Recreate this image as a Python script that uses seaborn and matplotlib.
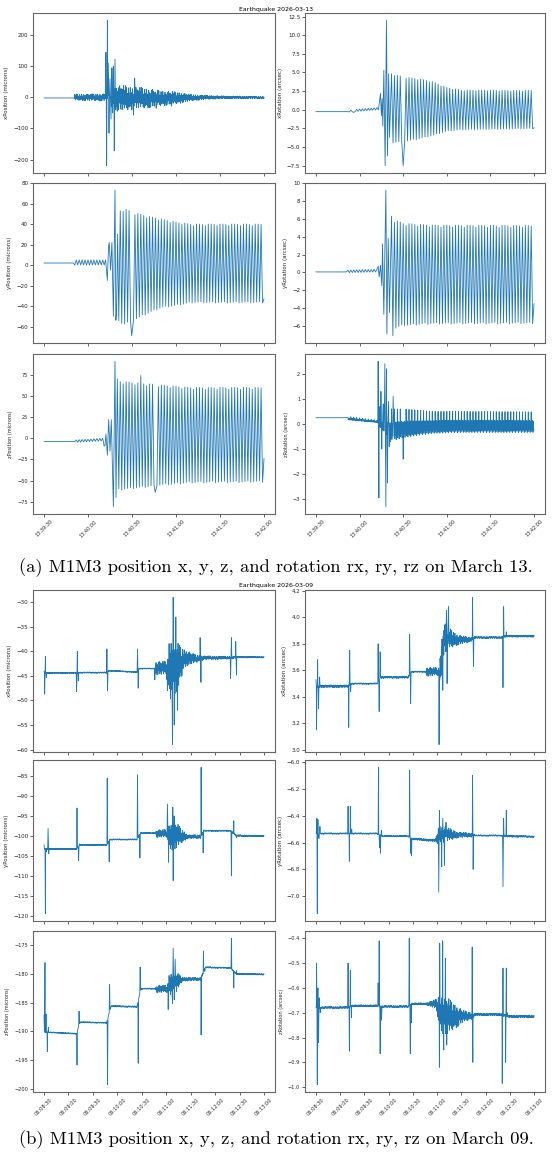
import numpy as np
import pandas as pd
import seaborn as sns
import matplotlib.pyplot as plt
import matplotlib.dates as mdates
from matplotlib.ticker import MultipleLocator

# ---------------- data ----------------
# each signal: envelope knots (seconds from start, upper, lower), carrier period,
# and the individual spike vertices (seconds, value)

# March 13, 13:39:30 -> 13:42:00
top_start = "2026-03-13 13:39:30"
top_len = 150

xpos_kt = [0, 20.9, 21, 41.5, 50, 60, 70, 80, 90, 100, 110, 120, 150]
xpos_hi = [-2, -2, 10, 12, 40, 35, 30, 22, 18, 10, 7, 5, 3]
xpos_lo = [-2, -2, -10, -12, -45, -40, -35, -28, -22, -12, -7, -5, -4]
xpos_st = [42.2, 42.7, 43.2, 43.8, 44.3, 45.0, 45.7, 46.3, 46.8, 47.3, 47.9, 48.4, 49.0, 61.0, 61.8, 76.5, 87.0]
xpos_sv = [145, -220, 248, 110, -115, 60, -70, 95, -50, 100, -172, 123, -40, -57, 62, -35, -28]

xrot_kt = [0, 22, 22.1, 30, 43, 44, 50, 60, 70, 80, 90, 100, 150]
xrot_hi = [-0.25, -0.25, -0.1, 0.1, 0.3, 2.2, 5.0, 4.4, 4.2, 3.8, 3.0, 2.65, 2.6]
xrot_lo = [-0.25, -0.25, -0.3, -0.2, 0.0, -0.8, -4.5, -4.3, -4.0, -3.5, -2.9, -2.7, -2.55]
xrot_st = [26.0, 44.4, 45.0, 45.5, 46.0, 46.7, 47.6, 48.5, 49.2, 50.0, 50.6, 60.0, 150]
xrot_sv = [-0.35, 2.2, -0.8, 1.5, -2.2, 5.3, -7.5, 12.0, -6.2, 4.8, -3.7, -7.5, -2.4]

ypos_kt = [0, 20, 20.1, 42, 49, 55, 60, 70, 80, 90, 100, 150]
ypos_hi = [2, 2, 5, 5, 52, 55, 52, 48, 45, 42, 40, 40]
ypos_lo = [2, 2, 0, 0, -55, -58, -55, -48, -42, -40, -37, -37]
ypos_st = [43.2, 44.5, 45.4, 46.3, 47.3, 48.4, 49.5, 50.2, 59.8, 150]
ypos_sv = [-15, 22, -5, 22, -50, 73, -45, 30, -69, -33]

yrot_kt = [0, 21, 21.1, 43, 52, 60, 70, 80, 150]
yrot_hi = [0.05, 0.05, 0.25, 0.35, 6.0, 5.5, 5.4, 5.3, 5.25]
yrot_lo = [0.05, 0.05, -0.05, 0.05, -6.5, -6.0, -5.9, -5.8, -5.75]
yrot_st = [42.8, 43.5, 44.4, 45.3, 45.8, 46.7, 48.1, 48.8, 49.7, 50.6, 52.0, 52.9, 150]
yrot_sv = [0.7, -0.5, 0.8, -1.5, 3.2, -4.7, 9.2, -6.9, 3.8, -4.5, 6.3, -7.1, -3.5]

zpos_kt = [0, 21, 21.1, 40, 49, 60, 80, 100, 150]
zpos_hi = [-4, -4, -2, 0, 68, 66, 63, 60, 60]
zpos_lo = [-4, -4, -5, -3, -62, -60, -56, -53, -52]
zpos_st = [41.6, 42.2, 43.2, 44.1, 45.0, 45.9, 47.3, 48.4, 49.1, 50.0, 66.0, 75.8, 150]
zpos_sv = [-8, 5, -20, 22, -15, 22, -81, 91, -70, 70, 74, -64, -24]

zrot_kt = [0, 22, 22.1, 42, 50, 60, 80, 100, 150]
zrot_hi = [0.25, 0.25, 0.3, 0.15, 0.6, 0.6, 0.5, 0.5, 0.48]
zrot_lo = [0.25, 0.25, 0.15, 0.05, -0.8, -0.6, -0.42, -0.38, -0.38]
zrot_st = [42.8, 43.3, 44.0, 44.7, 45.3, 46.3, 47.4, 48.1, 48.5, 49.2, 49.9, 50.4, 53.1, 60.0, 150]
zrot_sv = [2.5, -2.95, 0.7, 1.3, -1.0, 0.8, 2.4, -3.3, 2.2, -2.35, 0.9, -0.9, 1.1, -1.4, -0.25]

# March 09, 06:08:30 -> 06:13:00
bot_start = "2026-03-09 06:08:30"
bot_len = 270

bx_kt = [0, 40, 43, 77, 80, 114, 117, 136, 137, 150, 153, 158, 165, 172, 185, 192, 196, 228, 238, 270]
bx_hi = [-44.25, -44.25, -44.2, -44.2, -43.8, -44.1, -43.4, -43.4, -42.0, -42.0, -38, -36.5, -38.5, -39.5, -40.6, -40.8, -40.9, -41.0, -41.0, -41.05]
bx_lo = [-44.5, -44.5, -44.45, -44.45, -44.05, -44.35, -43.6, -43.6, -44.8, -44.8, -49, -50.5, -48, -43.2, -42.4, -42.0, -41.7, -41.6, -41.35, -41.35]
bx_st = [0, 0.8, 1.7, 2.9, 40.0, 40.9, 42.1, 77.2, 78.0, 114.8, 115.6, 136.0, 151.5, 157.7, 158.5, 159.8, 161.8, 163.9, 191.6, 192.6, 229.0, 230.0, 235.3, 236.2]
bx_sv = [-44.0, -48.7, -41.0, -45.3, -48.2, -40.0, -46.0, -39.5, -48.0, -39.5, -47.5, -45.8, -48.0, -59.0, -29.0, -55.0, -33.0, -52.0, -37.2, -46.3, -45.5, -37.2, -38.0, -44.8]

bxr_kt = [0, 39, 43, 76, 80, 114, 118, 136, 137, 151, 153, 158, 165, 175, 190, 197, 229, 236, 270]
bxr_hi = [3.49, 3.49, 3.505, 3.505, 3.555, 3.555, 3.595, 3.595, 3.625, 3.62, 3.7, 3.97, 3.92, 3.87, 3.85, 3.855, 3.855, 3.865, 3.865]
bxr_lo = [3.47, 3.47, 3.495, 3.495, 3.54, 3.54, 3.585, 3.585, 3.555, 3.56, 3.45, 3.7, 3.76, 3.79, 3.81, 3.84, 3.84, 3.85, 3.85]
bxr_st = [0, 0.8, 2.1, 3.3, 4.6, 40.6, 41.8, 43.0, 77.0, 78.3, 79.5, 116.0, 117.2, 151.6, 152.4, 153.6, 157.0, 161.5, 162.3, 164.0, 193.8, 195.0, 231.5, 232.3, 235.6]
bxr_sv = [3.53, 3.15, 3.68, 3.31, 3.55, 3.17, 3.75, 3.44, 3.80, 3.29, 3.74, 3.87, 3.35, 3.60, 3.04, 3.69, 3.45, 4.05, 3.50, 4.08, 4.15, 3.63, 3.47, 4.08, 3.89]

by_kt = [0, 40, 44, 77, 81, 114, 118, 137, 138, 151, 154, 160, 168, 176, 192, 196, 229, 236, 270]
by_hi = [-103.1, -103.1, -102.1, -102.1, -100.75, -100.75, -99.15, -99.15, -98.4, -98.4, -97, -96, -98, -99.7, -99.7, -98.55, -98.55, -99.7, -99.85]
by_lo = [-103.45, -103.45, -102.4, -102.4, -101.05, -101.05, -99.45, -99.45, -100.4, -100.4, -103, -104, -102, -100.7, -100.7, -98.85, -98.85, -100.15, -100.2]
by_st = [0, 1.7, 2.9, 5.0, 5.8, 40.5, 42.5, 43.4, 77.6, 80.0, 114.8, 117.7, 151.5, 152.8, 158.1, 158.5, 159.8, 192.8, 195.3, 230.0, 232.9, 236.2]
by_sv = [-102.2, -119.5, -104.0, -98.1, -104.5, -93.0, -106.2, -102.0, -85.5, -106.5, -84.7, -105.5, -92.0, -106.6, -92.8, -111.2, -95.0, -82.8, -104.2, -110.0, -96.2, -100.5]

byr_kt = [0, 39, 44, 76, 81, 114, 119, 148, 152, 160, 175, 194, 197, 229, 236, 270]
byr_hi = [-6.528, -6.528, -6.528, -6.528, -6.548, -6.548, -6.565, -6.575, -6.47, -6.48, -6.52, -6.53, -6.543, -6.543, -6.545, -6.55]
byr_lo = [-6.538, -6.538, -6.538, -6.538, -6.558, -6.558, -6.58, -6.595, -6.62, -6.6, -6.565, -6.56, -6.553, -6.553, -6.56, -6.562]
byr_st = [0, 1.2, 1.7, 2.5, 3.7, 5.0, 39.8, 41.4, 42.6, 44.3, 77.4, 78.7, 79.9, 81.0, 116.0, 117.2, 118.4, 152.0, 152.8, 155.7, 157.0, 159.0, 161.0, 193.8, 194.6, 231.5, 232.3, 235.6, 236.9]
byr_sv = [-6.53, -6.42, -7.13, -6.43, -6.57, -6.48, -6.33, -6.74, -6.33, -6.50, -6.04, -6.64, -6.68, -6.51, -6.06, -6.68, -6.70, -6.97, -6.36, -6.78, -6.42, -6.77, -6.45, -6.10, -6.80, -6.93, -6.42, -6.36, -6.56]

bz_kt = [0, 40, 44, 77, 82, 114, 119, 137, 138, 151, 154, 160, 170, 192, 198, 229, 236, 270]
bz_hi = [-190.0, -190.3, -188.3, -188.4, -185.5, -185.6, -182.5, -182.5, -182.0, -182.0, -179.8, -179.5, -180.6, -180.7, -178.8, -178.9, -179.95, -180.0]
bz_lo = [-190.2, -190.5, -188.5, -188.6, -185.75, -185.85, -182.7, -182.7, -183.3, -183.3, -183.5, -184.0, -181.3, -181.2, -179.05, -179.1, -180.2, -180.25]
bz_st = [0, 1.2, 2.5, 4.1, 5.4, 40.5, 43.0, 44.2, 78.0, 80.5, 81.7, 115.6, 118.0, 119.3, 152.4, 157.7, 158.5, 159.8, 161.0, 192.8, 195.7, 197.4, 230.0, 232.9, 236.2]
bz_sv = [-187.2, -178.1, -187.0, -193.5, -189.3, -195.8, -186.5, -188.6, -199.2, -181.9, -185.9, -195.5, -178.9, -182.8, -186.2, -185.2, -175.6, -184.5, -177.5, -190.6, -176.1, -179.6, -173.9, -182.5, -179.5]

bzr_kt = [0, 39, 44, 76, 82, 114, 119, 136, 149, 153, 160, 170, 182, 194, 198, 229, 237, 270]
bzr_hi = [-0.675, -0.675, -0.668, -0.668, -0.671, -0.671, -0.66, -0.66, -0.645, -0.62, -0.63, -0.66, -0.69, -0.7, -0.702, -0.702, -0.71, -0.71]
bzr_lo = [-0.683, -0.683, -0.676, -0.676, -0.679, -0.679, -0.668, -0.668, -0.685, -0.76, -0.8, -0.77, -0.74, -0.725, -0.712, -0.712, -0.72, -0.72]
bzr_st = [0, 0.8, 1.7, 2.5, 3.3, 4.1, 5.4, 39.8, 41.4, 42.6, 43.9, 77.0, 78.3, 79.5, 81.2, 115.5, 116.8, 118.0, 152.8, 153.2, 156.9, 158.2, 160.2, 161.9, 193.4, 194.2, 230.6, 231.5, 234.8, 235.6, 236.9]
bzr_sv = [-0.68, -0.50, -0.99, -0.60, -0.82, -0.64, -0.70, -0.50, -0.855, -0.53, -0.72, -0.58, -0.41, -0.865, -0.73, -0.40, -0.865, -0.74, -0.92, -0.42, -0.41, -0.85, -0.48, -0.83, -0.435, -0.90, -0.985, -0.52, -0.90, -0.52, -0.70]

# amplitude patterns of successive half-swings
steady = [1.0, 0.98, 1.0, 0.97, 0.99, 1.0, 0.96, 0.99]
noisy = [1.0, 0.35, 0.7, 0.15, 0.9, 0.5, 0.25, 0.8, 0.4, 0.6, 0.2, 0.95, 0.3, 0.55,
         0.85, 0.1, 0.45, 0.75, 0.3, 0.65, 0.2, 0.5, 0.9, 0.35, 0.15, 0.7, 0.4, 0.6,
         0.25, 1.0, 0.5, 0.3, 0.8, 0.45, 0.2, 0.65, 0.55]
mixed = [1.0, 0.8, 0.15, 0.6, 0.2, 0.9, 0.1, 0.7]


def build(start, t_end, kt, hi, lo, period, pattern, st, sv, gap):
    tk = np.arange(0, t_end + 1e-9, period / 2)
    h = np.interp(tk, kt, hi)
    l = np.interp(tk, kt, lo)
    mid = (h + l) / 2
    edge = np.where(np.arange(len(tk)) % 2 == 0, h, l)
    v = mid + (edge - mid) * np.resize(pattern, len(tk))
    st = np.asarray(st, float)
    near = np.min(np.abs(tk[:, None] - st[None, :]), axis=1) < gap
    t = np.concatenate([tk[~near], st])
    v = np.concatenate([v[~near], sv])
    o = np.argsort(t, kind="stable")
    ts = pd.Timestamp(start) + pd.to_timedelta(t[o], unit="s")
    return pd.DataFrame({"time": ts, "value": v[o]})


top = [
    (build(top_start, top_len, xpos_kt, xpos_hi, xpos_lo, 0.3, noisy, xpos_st, xpos_sv, 0.15), "xPosition (microns)", 100),
    (build(top_start, top_len, xrot_kt, xrot_hi, xrot_lo, 2.0, steady, xrot_st, xrot_sv, 0.45), "xRotation (arcsec)", 2.5),
    (build(top_start, top_len, ypos_kt, ypos_hi, ypos_lo, 2.0, steady, ypos_st, ypos_sv, 0.45), "yPosition (microns)", 20),
    (build(top_start, top_len, yrot_kt, yrot_hi, yrot_lo, 2.0, steady, yrot_st, yrot_sv, 0.45), "yRotation (arcsec)", 2),
    (build(top_start, top_len, zpos_kt, zpos_hi, zpos_lo, 2.0, steady, zpos_st, zpos_sv, 0.45), "zPosition (microns)", 25),
    (build(top_start, top_len, zrot_kt, zrot_hi, zrot_lo, 0.5, mixed, zrot_st, zrot_sv, 0.2), "zRotation (arcsec)", 1),
]
bot = [
    (build(bot_start, bot_len, bx_kt, bx_hi, bx_lo, 0.5, noisy, bx_st, bx_sv, 0.3), "xPosition (microns)", 5),
    (build(bot_start, bot_len, bxr_kt, bxr_hi, bxr_lo, 0.5, noisy, bxr_st, bxr_sv, 0.3), "xRotation (arcsec)", 0.2),
    (build(bot_start, bot_len, by_kt, by_hi, by_lo, 0.5, noisy, by_st, by_sv, 0.3), "yPosition (microns)", 5),
    (build(bot_start, bot_len, byr_kt, byr_hi, byr_lo, 0.5, noisy, byr_st, byr_sv, 0.3), "yRotation (arcsec)", 0.2),
    (build(bot_start, bot_len, bz_kt, bz_hi, bz_lo, 0.5, noisy, bz_st, bz_sv, 0.3), "zPosition (microns)", 5),
    (build(bot_start, bot_len, bzr_kt, bzr_hi, bzr_lo, 0.5, noisy, bzr_st, bzr_sv, 0.3), "zRotation (arcsec)", 0.1),
]

# ---------------- figure ----------------
sns.set_style("ticks")
plt.rcParams["font.family"] = ["DejaVu Sans"]
W, H = 552, 1156
fig = plt.figure(figsize=(W / 100, H / 100), dpi=100)

cols = [(33, 275), (305, 545)]
top_rows = [(13, 173), (183, 343), (354, 514)]
bot_rows = [(590, 752), (760, 921), (931, 1092)]


def px_axes(x0, x1, y0, y1):
    return fig.add_axes([x0 / W, 1 - y1 / H, (x1 - x0) / W, (y1 - y0) / H])


def draw(panel, rows):
    for i, (df, label, step) in enumerate(panel):
        r, c = divmod(i, 2)
        ax = px_axes(cols[c][0], cols[c][1], rows[r][0], rows[r][1])
        sns.lineplot(data=df, x="time", y="value", ax=ax, color="#1f77b4",
                     linewidth=0.6, estimator=None, sort=False)
        fs = 3.6 if r == 2 else 4.0
        ax.set_ylabel(label, fontsize=fs, labelpad=3)
        ax.set_xlabel("")
        ax.yaxis.set_major_locator(MultipleLocator(step))
        ax.xaxis.set_major_locator(mdates.SecondLocator(bysecond=[0, 30]))
        ax.xaxis.set_major_formatter(mdates.DateFormatter("%H:%M:%S"))
        ax.tick_params(axis="both", labelsize=fs, length=2, width=0.5, pad=1.5)
        for s in ax.spines.values():
            s.set_color("0.4")
            s.set_linewidth(0.8)
        if r == 2:
            plt.setp(ax.get_xticklabels(), rotation=45, fontsize=3.6)
        else:
            ax.set_xticklabels([])


draw(top, top_rows)
draw(bot, bot_rows)

fig.text(0.5, 1 - 9 / H, "Earthquake 2026-03-13", ha="center", va="center", fontsize=4.5, color="black")
fig.text(0.5, 1 - 585 / H, "Earthquake 2026-03-09", ha="center", va="center", fontsize=4.5, color="black")
fig.text(0.5, 1 - 568 / H, "(a) M1M3 position x, y, z, and rotation rx, ry, rz on March 13.",
         ha="center", va="center", fontsize=13.4, family="cmr10", color="black")
fig.text(0.5, 1 - 1140 / H, "(b) M1M3 position x, y, z, and rotation rx, ry, rz on March 09.",
         ha="center", va="center", fontsize=13.4, family="cmr10", color="black")

fig.savefig("out.png", dpi=100)
